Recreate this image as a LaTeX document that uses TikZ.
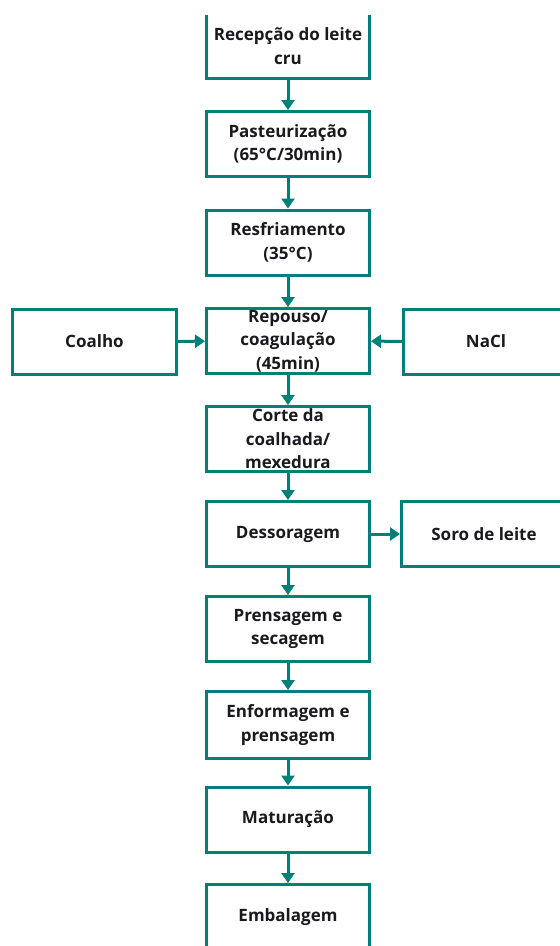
\documentclass[tikz,border=0pt]{standalone}
\usepackage{fontspec}
\setmainfont{Open Sans}
\usetikzlibrary{arrows.meta}
\definecolor{teal1}{RGB}{0,128,120}
\definecolor{txt}{RGB}{25,25,30}
\tikzset{
  box/.style={draw=teal1, line width=3pt, minimum width=163pt, minimum height=65pt,
    inner sep=0pt, align=center, text=txt, font=\bfseries\fontsize{17}{23.5}\selectfont},
  arr/.style={draw=teal1, line width=3pt, -{Triangle[width=13pt,length=10pt]}}
}
\begin{document}
\begin{tikzpicture}[x=1pt,y=-1pt]
\useasboundingbox (0,0) rectangle (560,946);
\clip (0,15) rectangle (560,946);
\node[box] (b1) at (288,46) {Recepção do leite\\cru};
\node[box] (b2) at (288,144) {Pasteurização\\(65°C/30min)};
\node[box] (b3) at (288,242.5) {Resfriamento\\(35°C)};
\node[box] (b4) at (288,341) {Repouso/\\coagulação\\(45min)};
\node[box] (b5) at (288,439) {Corte da\\coalhada/\\mexedura};
\node[box] (b6) at (288,534) {Dessoragem};
\node[box] (b7) at (288,629) {Prensagem e\\secagem};
\node[box, minimum height=67pt] (b8) at (288,725) {Enformagem e\\prensagem};
\node[box] (b9) at (288,819.5) {Maturação};
\node[box] (b10) at (288,917) {Embalagem};
\node[box, minimum width=164pt] (coalho) at (94.5,341.5) {Coalho};
\node[box, minimum width=165pt] (nacl) at (486,341.5) {NaCl};
\node[box, minimum width=165pt] (soro) at (484,534) {Soro de leite};
\draw[arr] (b1) -- (b2);
\draw[arr] (b2) -- (b3);
\draw[arr] (b3) -- (b4);
\draw[arr] (b4) -- (b5);
\draw[arr] (b5) -- (b6);
\draw[arr] (b6) -- (b7);
\draw[arr] (b7) -- (b8);
\draw[arr] (b8) -- (b9);
\draw[arr] (b9) -- (b10);
\draw[arr] (coalho) -- (b4);
\draw[arr] (nacl) -- (b4);
\draw[arr] (b6) -- (soro);
\end{tikzpicture}
\end{document}
